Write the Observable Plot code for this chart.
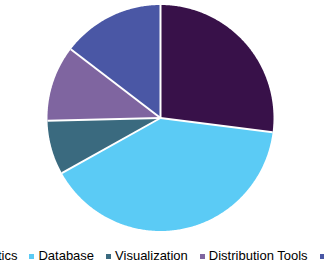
<!DOCTYPE html>
<html><head><meta charset="utf-8">
<script src="https://cdn.jsdelivr.net/npm/d3@7"></script>
<script src="https://cdn.jsdelivr.net/npm/@observablehq/plot@0.6"></script>
<style>
body{margin:0;background:#fff;font-family:"Liberation Sans",Arial,sans-serif;}
#chart svg{display:block;}
#legend{width:324px;display:flex;justify-content:center;white-space:nowrap;padding-top:8px;font-size:13px;line-height:16px;color:#000;}
.item{display:flex;align-items:center;margin:0 6px;flex:none;}
.sw{width:5px;height:5px;margin-right:4px;flex:none;}
</style></head><body><div id="chart"></div><div id="legend"></div>
<script>
const categories = ["Analytics", "Database", "Visualization", "Distribution Tools", "Others"];
const shares = [27.0, 39.9, 7.7, 10.8, 14.6];
const colors = ["#381149", "#5bcbf5", "#3a6a7f", "#7f65a0", "#4a57a5"];

const R = 113;
const arcs = d3.pie().sort(null).value(d => d)(shares);
const pts = [];
const edges = [];
arcs.forEach((a, i) => {
  const cat = categories[i];
  pts.push({cat, x: 0, y: 0});
  const n = Math.max(2, Math.ceil((a.endAngle - a.startAngle) / 0.01));
  for (let k = 0; k <= n; k++) {
    const t = a.startAngle + (a.endAngle - a.startAngle) * k / n;
    pts.push({cat, x: R * Math.sin(t), y: -R * Math.cos(t)});
  }
  edges.push({x: R * Math.sin(a.startAngle), y: -R * Math.cos(a.startAngle)});
});

const plot = Plot.plot({
  width: 324, height: 240,
  margin: 0,
  x: {domain: [-160, 164], range: [0, 324], axis: null},
  y: {domain: [-117.5, 122.5], range: [0, 240], axis: null},
  color: {domain: categories, range: colors},
  marks: [
    Plot.line(pts, {x: "x", y: "y", z: "cat", fill: "cat", stroke: null, curve: "linear"}),
    Plot.link(edges, {x1: () => 0, y1: () => 0, x2: "x", y2: "y", stroke: "white", strokeWidth: 2})
  ]
});
document.getElementById("chart").appendChild(plot);

const legend = document.getElementById("legend");
categories.forEach((c, i) => {
  const it = document.createElement("div");
  it.className = "item";
  const sw = document.createElement("span");
  sw.className = "sw";
  sw.style.background = colors[i];
  const tx = document.createElement("span");
  tx.textContent = c;
  it.appendChild(sw); it.appendChild(tx);
  legend.appendChild(it);
});
</script></body></html>
